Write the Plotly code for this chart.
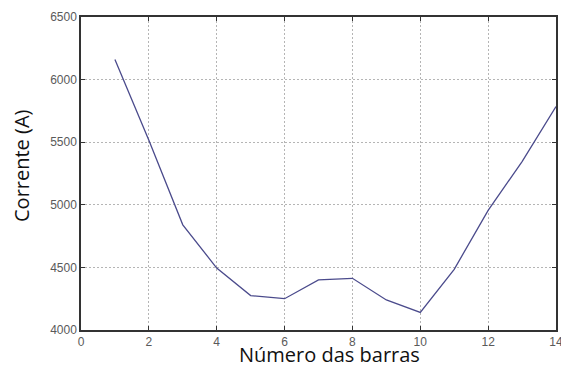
import plotly.graph_objects as go

barras = [1, 2, 3, 4, 5, 6, 7, 8, 9, 10, 11, 12, 13, 14]
corrente = [6160, 5515, 4840, 4495, 4275, 4250, 4400, 4413, 4240, 4140, 4485, 4955, 5345, 5785]

x_ticks = [0, 2, 4, 6, 8, 10, 12, 14]
y_ticks = [4000, 4500, 5000, 5500, 6000, 6500]

x_title = "Número das barras"
y_title = "Corrente (A)"

fig = go.Figure()
fig.add_trace(go.Scatter(x=barras, y=corrente, mode="lines",
                         line=dict(color="#4b4b8c", width=1.3)))

axis_common = dict(
    showline=True, linecolor="#333333", linewidth=1.5, mirror="ticks",
    ticks="inside", ticklen=4, tickcolor="#333333",
    showgrid=True, gridcolor="#b5b5b5", griddash="2px,2px", gridwidth=1,
    zeroline=False,
    tickfont=dict(family="Liberation Sans, Arial", size=12, color="#5a5a5a"),
    automargin=False, ticklabeloverflow="allow",
)

title_font = dict(family="Open Sans", size=20, color="#111111")

fig.update_layout(
    width=561, height=367,
    margin=dict(l=81, r=5, t=17, b=37),
    paper_bgcolor="white", plot_bgcolor="white",
    showlegend=False,
    xaxis=dict(range=[0, 14], tickvals=x_ticks, ticklabelstandoff=0, **axis_common),
    yaxis=dict(range=[4000, 6500], tickvals=y_ticks, ticklabelstandoff=0, **axis_common),
    annotations=[
        dict(text=x_title, xref="paper", yref="paper", x=0.524, y=0,
             xanchor="center", yanchor="bottom", yshift=-40, showarrow=False,
             font=title_font),
        dict(text=y_title, xref="paper", yref="paper", x=0, y=0.524,
             xanchor="center", yanchor="middle", xshift=-59, textangle=-90,
             showarrow=False, font=title_font),
    ],
)

fig.write_html("out.html")
